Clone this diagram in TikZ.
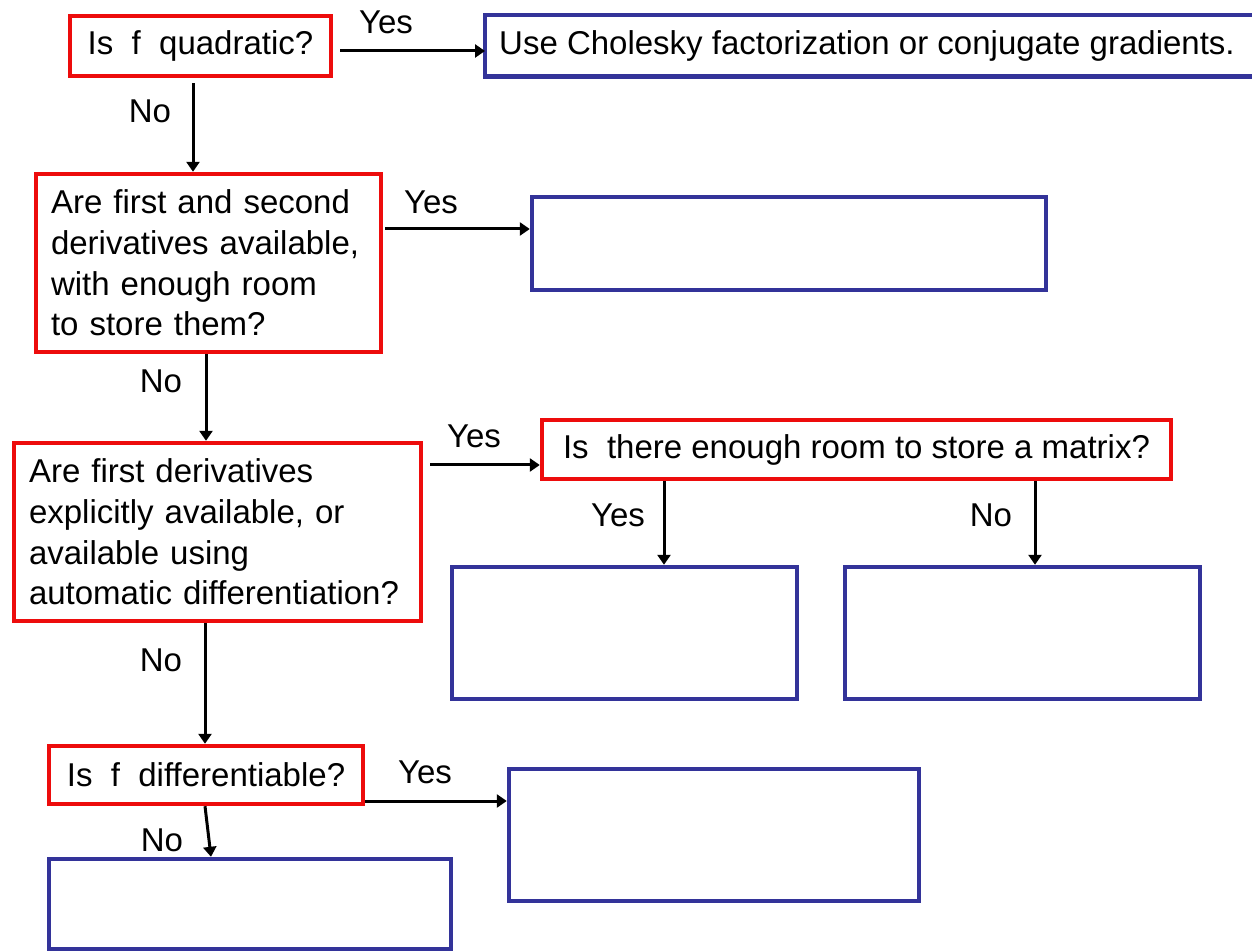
\documentclass[tikz,border=0pt]{standalone}
\usepackage{fontspec}
\setmainfont{Liberation Sans}
\usetikzlibrary{arrows.meta}
\definecolor{qred}{RGB}{237,12,12}
\definecolor{ablue}{RGB}{51,51,153}

\begin{document}
\begin{tikzpicture}[x=0.5pt,y=-0.5pt,->,>={Triangle[length=5pt,width=6.5pt]},line width=1.5pt]
    \tikzstyle{every node}=[font=\fontsize{16.5}{20.35}\selectfont]
    \tikzstyle{box}=[rectangle,line width=2.2pt,inner sep=0pt]
    \tikzstyle{question}=[box,draw=qred]
    \tikzstyle{answer}=[box,draw=ablue]
    \tikzstyle{annot}=[inner sep=0pt]

    \useasboundingbox (0,0) rectangle (1252,951);
    \clip (0,0) rectangle (1252,951);

    % Questions
    \node[question,minimum width=130.5pt,minimum height=30pt] (Q-1) at (200.5,46) {Is\ \ f\ \ quadratic?};
    \node[question,text width=157.5pt,inner xsep=7.5pt,minimum height=89pt,align=left] (Q-2) at (208.5,263)
        {Are first and second\\derivatives available,\\with enough room\\to store them?};
    \node[question,text width=188.5pt,inner xsep=7.5pt,minimum height=89pt,align=left] (Q-3) at (217.5,532)
        {Are first derivatives\\explicitly available, or\\available using\\automatic differentiation?};
    \node[question,minimum width=314.5pt,minimum height=29.5pt] (Q-4) at (856.5,449.5) {Is\ \ there enough room to store a matrix?};
    \node[question,minimum width=157pt,minimum height=29pt] (Q-5) at (206,775) {Is\ \ f\ \ differentiable?};

    % Answers (the first one runs off the right edge, so it has no right side)
    \node[box,anchor=west,inner xsep=6pt,minimum height=28.5pt] (B-1) at (485,46)
        {Use Cholesky factorization or conjugate gradients.};
    \coordinate (edge) at (1265,46);
    \draw[ablue,line width=2.2pt,-] (B-1.north west -| edge) -- (B-1.north west) -- (B-1.south west) -- (B-1.south west -| edge);
    \node[answer,minimum width=257pt,minimum height=46.5pt] (B-2) at (789,243.5) {};
    \node[answer,minimum width=172.5pt,minimum height=66pt] (B-3) at (624.5,633) {};
    \node[answer,minimum width=177.5pt,minimum height=66pt] (B-4) at (1022.5,633) {};
    \node[answer,minimum width=205pt,minimum height=66pt] (B-5) at (714,835) {};
    \node[answer,minimum width=201pt,minimum height=45pt] (B-6) at (250,904) {};

    % Connectors
    \draw ([shift={(7,5)}]Q-1.east) -- ([shift={(0,5)}]B-1.west);
    \draw ([shift={(-7.5,5)}]Q-1.south) -- ([shift={(-15.5,0)}]Q-2.north);
    \draw ([shift={(2,-34)}]Q-2.east) -- ([shift={(0,-14.5)}]B-2.west);
    \draw ([shift={(-2.5,0)}]Q-2.south) -- ([shift={(-11.5,0)}]Q-3.north);
    \draw ([shift={(7,-67)}]Q-3.east) -- ([shift={(0,15.5)}]Q-4.west);
    \draw ([shift={(-192.5,0)}]Q-4.south) -- ([shift={(39.5,0)}]B-3.north);
    \draw ([shift={(178.5,0)}]Q-4.south) -- ([shift={(12.5,0)}]B-4.north);
    \draw ([shift={(-12.5,0)}]Q-3.south) -- ([shift={(-1,0)}]Q-5.north);
    \draw ([shift={(0,26)}]Q-5.east) -- ([shift={(0,-34)}]B-5.west);
    \draw ([shift={(-1,0)}]Q-5.south) -- ([shift={(-39,0)}]B-6.north);

    % Annotate the branches
    \node[annot] (yes-1) at (386,22) {Yes};
    \node[annot] (no-1) at (150,111) {No};
    \node[annot] (yes-2) at (431,202) {Yes};
    \node[annot] (no-2) at (161,381) {No};
    \node[annot] (yes-3) at (474,436) {Yes};
    \node[annot] (yes-4) at (618,515) {Yes};
    \node[annot] (no-4) at (991,515) {No};
    \node[annot] (no-3) at (161,660) {No};
    \node[annot] (yes-5) at (425,772) {Yes};
    \node[annot] (no-5) at (162,840) {No};
\end{tikzpicture}
\end{document}
